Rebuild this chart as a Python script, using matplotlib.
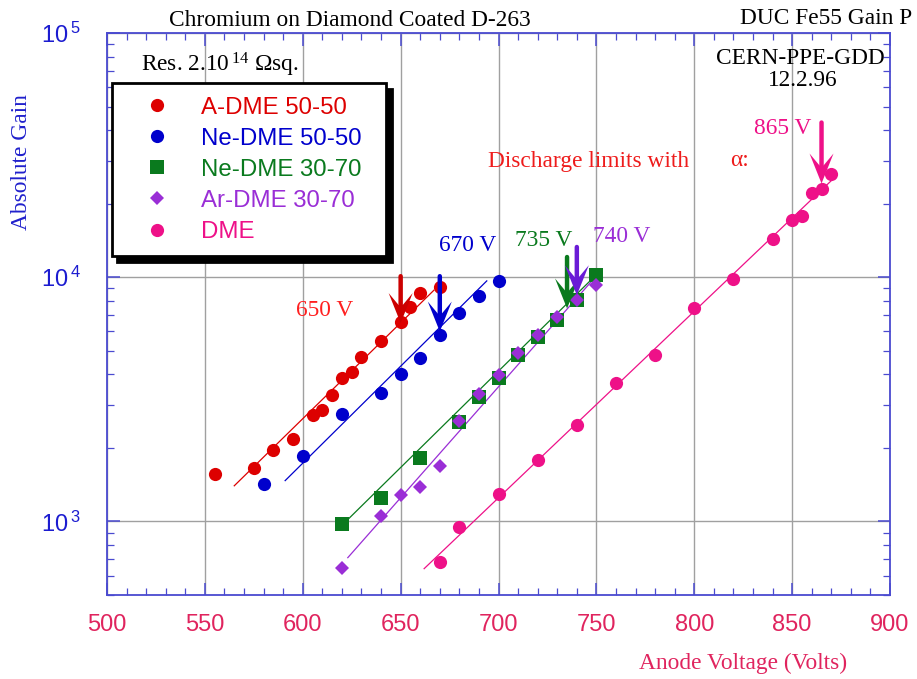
import numpy as np
import matplotlib.pyplot as plt
from matplotlib.ticker import MultipleLocator, LogLocator, NullFormatter, FixedFormatter, FixedLocator
from matplotlib.lines import Line2D
from matplotlib.patches import Polygon
from matplotlib.transforms import ScaledTranslation

plt.rcParams['font.family'] = ['Liberation Sans', 'DejaVu Sans']

# data (voltage in V, absolute gain)
adme_v = [555, 575, 585, 595, 605, 610, 615, 620, 625, 630, 640, 650, 655, 660, 670]
adme_g = [1570, 1660, 1970, 2180, 2720, 2870, 3300, 3880, 4100, 4700, 5480, 6580, 7570, 8580, 9080]

ne50_v = [580, 600, 620, 640, 650, 660, 670, 680, 690, 700]
ne50_g = [1425, 1850, 2755, 3370, 4020, 4690, 5800, 7110, 8370, 9660]

ne30_v = [620, 640, 660, 680, 690, 700, 710, 720, 730, 740, 750]
ne30_g = [973, 1250, 1820, 2560, 3245, 3865, 4806, 5705, 6670, 8055, 10260]

ar30_v = [620, 640, 650, 660, 670, 680, 690, 700, 710, 720, 730, 740, 750]
ar30_g = [647, 1058, 1285, 1380, 1693, 2582, 3327, 3981, 4887, 5797, 6886, 8055, 9276]

dme_v = [670, 680, 700, 720, 740, 760, 780, 800, 820, 840, 850, 855, 860, 865, 870]
dme_g = [682, 948, 1299, 1778, 2489, 3684, 4786, 7471, 9814, 14330, 17100, 17870, 22190, 22910, 26490]

# fitted lines (end points)
adme_fit_v, adme_fit_g = [565, 667], [1400, 8850]
ne50_fit_v, ne50_fit_g = [591, 694], [1470, 9660]
ne30_fit_v, ne30_fit_g = [622, 748], [1000, 9880]
ar30_fit_v, ar30_fit_g = [623, 748], [711, 9720]
dme_fit_v, dme_fit_g = [662, 871], [641, 25300]

# discharge limits
limit_v = [650, 670, 735, 740, 865]
limit_top = [10100, 10100, 12100, 13300, 43000]
limit_tip = [6490, 5990, 7450, 8440, 24200]
limit_lbl = ['650 V', '670 V', '735 V', '740 V', '865 V']
limit_lbl_v = [611, 684, 723, 763, 845]
limit_lbl_g = [7330, 13510, 14160, 14700, 40560]

yticks = [1e3, 1e4, 1e5]
ytick_lbl = [r'$\mathdefault{10^{\,3}}$', r'$\mathdefault{10^{\,4}}$', r'$\mathdefault{10^{\,5}}$']

red = '#dd0000'
blue = '#0000cc'
green = '#0a7a1e'
purple = '#9a2ed6'
pink = '#ee1188'
arrow_cols = ['#cc0000', '#0000cc', '#0a7a1e', '#6a1bd6', '#ee1188']
lbl_cols = ['#ff2020', '#0000cc', '#0a7a1e', '#9a2ed6', '#ee1188']
axcol = '#4a4ad0'
tickcol = '#e0245e'
serif = ['Liberation Serif', 'DejaVu Serif']
fs_serif = 16.8

fig = plt.figure(figsize=(9.17, 6.79), dpi=100)
ax = fig.add_axes([0.1167, 0.1237, 0.8539, 0.8277])

# fit lines
ax.plot(adme_fit_v, adme_fit_g, color=red, lw=0.9, zorder=2)
ax.plot(ne50_fit_v, ne50_fit_g, color=blue, lw=0.9, zorder=2)
ax.plot(ne30_fit_v, ne30_fit_g, color=green, lw=0.9, zorder=2)
ax.plot(ar30_fit_v, ar30_fit_g, color=purple, lw=0.9, zorder=2)
ax.plot(dme_fit_v, dme_fit_g, color=pink, lw=0.9, zorder=2)

# points
ax.plot(adme_v, adme_g, 'o', color=red, ms=9.5, mew=0, zorder=3)
ax.plot(ne50_v, ne50_g, 'o', color=blue, ms=9.5, mew=0, zorder=3)
ax.plot(ne30_v, ne30_g, 's', color=green, ms=9.5, mew=0, zorder=3)
ax.plot(ar30_v, ar30_g, 'D', color=purple, ms=7.5, mew=0, zorder=4)
ax.plot(dme_v, dme_g, 'o', color=pink, ms=9.5, mew=0, zorder=3)

# arrows: shaft + notched head (head drawn in inches around the tip)
head = np.array([[0, 0], [-12, 30], [-2, 18], [2, 18], [12, 30]]) / 100.0
for v, top, tip, c in zip(limit_v, limit_top, limit_tip, arrow_cols):
    ax.annotate('', xy=(v, tip), xytext=(v, top),
                arrowprops=dict(arrowstyle='-', lw=3.2, color=c, shrinkA=0, shrinkB=11),
                zorder=5)
    tr = fig.dpi_scale_trans + ScaledTranslation(v, tip, ax.transData)
    ax.add_patch(Polygon(head, closed=True, transform=tr, color=c, lw=0, zorder=5))

for t, v, g, c in zip(limit_lbl, limit_lbl_v, limit_lbl_g, lbl_cols):
    ax.text(v, g, t, color=c, fontsize=fs_serif, family=serif, ha='center', va='center')

ax.text(746, 29700, 'Discharge limits with', color='#ee1c1c', fontsize=fs_serif,
        family=serif, ha='center', va='center')
ax.text(823, 30000, 'α:', color='#ee1c1c', fontsize=fs_serif, family=serif,
        ha='center', va='center')

ax.set_yscale('log')
ax.set_xlim(500, 900)
ax.set_ylim(500, 1e5)

ax.xaxis.set_major_locator(MultipleLocator(50))
ax.xaxis.set_minor_locator(MultipleLocator(10))
ax.yaxis.set_major_locator(FixedLocator(yticks))
ax.yaxis.set_major_formatter(FixedFormatter(ytick_lbl))
ax.yaxis.set_minor_locator(LogLocator(base=10, subs=np.arange(2, 10), numticks=10))
ax.yaxis.set_minor_formatter(NullFormatter())

ax.grid(True, which='major', color='#a0a0a0', lw=1)
ax.set_axisbelow(True)
for s in ax.spines.values():
    s.set_color(axcol)
    s.set_linewidth(1.3)
ax.tick_params(which='both', direction='in', top=True, right=True, color=axcol)
ax.tick_params(which='major', length=9, width=1.1)
ax.tick_params(which='minor', length=5, width=0.9)
ax.tick_params(axis='x', which='major', labelsize=17, labelcolor=tickcol, pad=14)
ax.tick_params(axis='y', which='major', labelsize=17, labelcolor='#1c1cd0', pad=19)

ax.set_xlabel('Anode Voltage (Volts)', color=tickcol, fontsize=fs_serif, family=serif, va='center')
ax.xaxis.set_label_coords(0.812, -0.121)
ax.set_ylabel('Absolute Gain', color='#2020cc', fontsize=fs_serif, family=serif, va='center')
ax.yaxis.set_label_coords(-0.1086, 0.77)

# legend
handles = [Line2D([], [], ls='none', marker='o', color=red, ms=9.5, mew=0),
           Line2D([], [], ls='none', marker='o', color=blue, ms=9.5, mew=0),
           Line2D([], [], ls='none', marker='s', color=green, ms=9.5, mew=0),
           Line2D([], [], ls='none', marker='D', color=purple, ms=7.5, mew=0),
           Line2D([], [], ls='none', marker='o', color=pink, ms=9.5, mew=0)]
labels = ['A-DME 50-50', 'Ne-DME 50-50', 'Ne-DME 30-70', 'Ar-DME 30-70', 'DME']
leg = ax.legend(handles, labels, loc='upper left', bbox_to_anchor=(0.006, 0.5, 0.3505, 0.4105),
                mode='expand', fontsize=17.3, frameon=True, fancybox=False,
                shadow={'ox': 4, 'oy': -4, 'color': 'black', 'alpha': 1},
                borderpad=0.55, labelspacing=0.38, handletextpad=0.45, handlelength=2.7,
                borderaxespad=0)
leg.get_frame().set_edgecolor('black')
leg.get_frame().set_linewidth(2)
for txt, c in zip(leg.get_texts(), [red, blue, green, purple, pink]):
    txt.set_color(c)
leg.set_zorder(6)

# header texts
fig.text(0.382, 0.9705, 'Chromium on Diamond Coated D-263', fontsize=fs_serif, family=serif,
         ha='center', va='center')
fig.text(0.995, 0.973, 'DUC Fe55 Gain P', fontsize=fs_serif, family=serif, ha='right', va='center')
ax.text(0.886, 0.9555, 'CERN-PPE-GDD', transform=ax.transAxes, fontsize=fs_serif, family=serif,
        ha='center', va='center')
ax.text(0.888, 0.916, '12.2.96', transform=ax.transAxes, fontsize=fs_serif, family=serif,
        ha='center', va='center')
ax.text(0.044, 0.943, r'Res. 2.$\mathdefault{10^{\,14}}$ Ωsq.', transform=ax.transAxes,
        fontsize=fs_serif, family=serif, ha='left', va='center')

plt.savefig('out.png', dpi=100)
